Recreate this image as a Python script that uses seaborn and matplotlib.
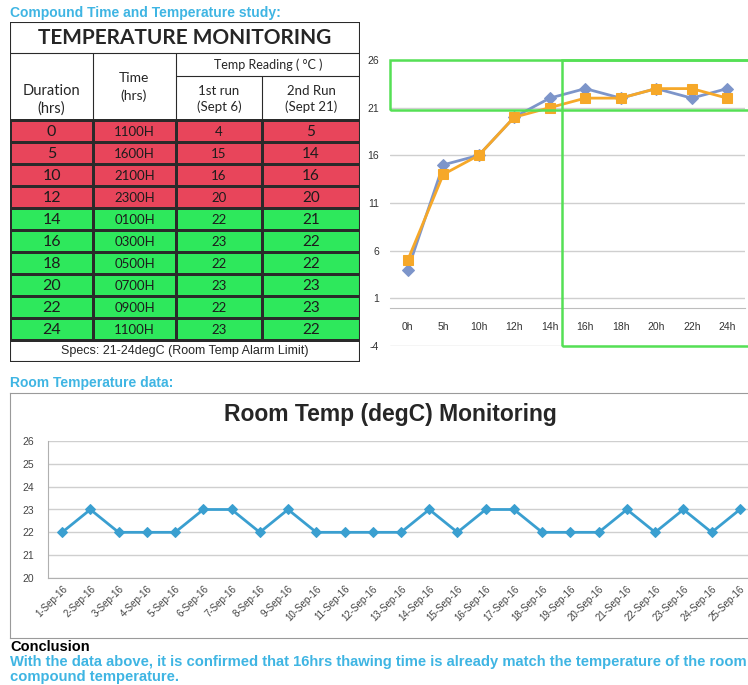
import numpy as np
import pandas as pd
import matplotlib
matplotlib.use("Agg")
import matplotlib.pyplot as plt
from matplotlib.colors import ListedColormap
from matplotlib.patches import Rectangle
import seaborn as sns

# ---- data ----
durations = [0, 5, 10, 12, 14, 16, 18, 20, 22, 24]
clock_times = ["1100H", "1600H", "2100H", "2300H", "0100H",
               "0300H", "0500H", "0700H", "0900H", "1100H"]
run1 = [4, 15, 16, 20, 22, 23, 22, 23, 22, 23]
run2 = [5, 14, 16, 20, 21, 22, 22, 23, 23, 22]
hour_labels = ["0h", "5h", "10h", "12h", "14h", "16h", "18h", "20h", "22h", "24h"]
alarm_low, alarm_high = 21, 24

room_dates = ["%d-Sep-16" % d for d in range(1, 26)]
room_temp = [22, 23, 22, 22, 22, 23, 23, 22, 23, 22, 22, 22, 22,
             23, 22, 23, 23, 22, 22, 22, 23, 22, 23, 22, 23]

CYAN = "#3fb5e3"
RED = "#e8455b"
GREEN = "#2ee85c"
BLUE_RUN = "#7d95ca"
ORANGE_RUN = "#f6a829"
LINE_BLUE = "#3a9fd0"
BOX_GREEN = "#55e055"
GRID = "#cfcfcf"

W, H = 748, 685
sns.set_style("white")
plt.rcParams["font.family"] = ["Liberation Sans", "DejaVu Sans"]
plt.rcParams["axes.unicode_minus"] = False
TABF = ["Lato", "DejaVu Sans"]


def rect(x0, y0, x1, y1):
    return [x0 / W, 1 - y1 / H, (x1 - x0) / W, (y1 - y0) / H]


fig = plt.figure(figsize=(W / 100, H / 100), dpi=100)

# ---- headings ----
fig.text(10 / W, 1 - 13 / H, "Compound Time and Temperature study:", color=CYAN,
         fontsize=10, fontweight="bold", va="center", ha="left")
fig.text(10 / W, 1 - 383 / H, "Room Temperature data:", color=CYAN,
         fontsize=10, fontweight="bold", va="center", ha="left")
fig.text(10 / W, 1 - 647 / H, "Conclusion", color="black",
         fontsize=10.5, fontweight="bold", va="center", ha="left")
fig.text(10 / W, 1 - 662 / H,
         "With the data above, it is confirmed that 16hrs thawing time is already "
         "match the temperature of the room", color=CYAN,
         fontsize=10.6, fontweight="bold", va="center", ha="left")
fig.text(10 / W, 1 - 677 / H, "compound temperature.", color=CYAN,
         fontsize=10.6, fontweight="bold", va="center", ha="left")

# ---- table ----
axt = fig.add_axes(rect(10, 22, 360, 362))
axt.set_xlim(10, 360)
axt.set_ylim(362, 22)
axt.axis("off")

col_edges = np.array([10, 93, 176, 262, 360])
row_edges = np.linspace(120, 340, len(durations) + 1)
ok = (np.minimum(run1, run2) >= alarm_low).astype(int)
status = np.repeat(ok[:, None], 4, axis=1)
axt.pcolormesh(col_edges, row_edges, status, cmap=ListedColormap([RED, GREEN]),
               vmin=0, vmax=1, edgecolors="#2a2a2a", linewidth=0.8)

cx = (col_edges[:-1] + col_edges[1:]) / 2
cy = (row_edges[:-1] + row_edges[1:]) / 2
columns = [[str(d) for d in durations], clock_times,
           [str(v) for v in run1], [str(v) for v in run2]]
sizes = [11.5, 9.5, 9.5, 11]
for j, col in enumerate(columns):
    for i, txt in enumerate(col):
        axt.text(cx[j], cy[i] + 1, txt, ha="center", va="center",
                 fontsize=sizes[j], color="#1c1c1c", family=TABF)

lk = dict(color="#2a2a2a", lw=0.8)
axt.plot([10, 360], [53, 53], **lk)
axt.plot([93, 93], [53, 120], **lk)
axt.plot([176, 176], [53, 120], **lk)
axt.plot([262, 262], [76, 120], **lk)
axt.plot([176, 360], [76, 76], **lk)
axt.add_patch(Rectangle((10, 22), 350, 340, fill=False, ec="#2a2a2a", lw=1.5))

axt.text(185, 38, "TEMPERATURE MONITORING", ha="center", va="center",
         fontsize=15, fontweight="bold", family=TABF)
axt.text(51, 100, "Duration\n(hrs)", ha="center", va="center", fontsize=10.5,
         family=TABF, linespacing=1.3)
axt.text(134, 87, "Time\n(hrs)", ha="center", va="center", fontsize=10,
         family=TABF, linespacing=1.45)
axt.text(268, 65, "Temp Reading ( °C )", ha="center", va="center", fontsize=9,
         family=TABF)
axt.text(219, 99, "1st run\n(Sept 6)", ha="center", va="center", fontsize=9.5,
         family=TABF, linespacing=1.4)
axt.text(311, 99, "2nd Run\n(Sept 21)", ha="center", va="center", fontsize=9.5,
         family=TABF, linespacing=1.4)
axt.text(185, 351, "Specs: %d-%ddegC (Room Temp Alarm Limit)" % (alarm_low, alarm_high),
         ha="center", va="center", fontsize=9)

# ---- top-right line chart ----
ax1 = fig.add_axes(rect(390, 60, 745, 346))
runs = pd.DataFrame({"hour": hour_labels, "run1": run1, "run2": run2})
sns.lineplot(data=runs, x="hour", y="run1", ax=ax1, sort=False, color=BLUE_RUN,
             marker="D", markersize=6, markeredgecolor=BLUE_RUN, lw=2)
sns.lineplot(data=runs, x="hour", y="run2", ax=ax1, sort=False, color=ORANGE_RUN,
             marker="s", markersize=7.5, markeredgecolor=ORANGE_RUN, lw=2)
ax1.set_xlim(-0.5, len(hour_labels) - 0.5)
ax1.set_ylim(-4, 26)
ax1.set_yticks(np.arange(-4, 27, 5))
ax1.yaxis.grid(True, color=GRID, lw=1)
ax1.set_axisbelow(True)
for s in ["left", "right", "top"]:
    ax1.spines[s].set_visible(False)
ax1.spines["bottom"].set_position(("data", 0))
ax1.spines["bottom"].set_color("#bdbdbd")
ax1.set_xticks(np.arange(-0.5, len(hour_labels), 1), minor=True)
ax1.tick_params(axis="x", which="major", length=0, pad=10, labelsize=7.5, labelcolor="#333333")
ax1.tick_params(axis="x", which="minor", length=3, color="#bdbdbd", direction="out")
ax1.tick_params(axis="y", length=0, labelsize=7.5, labelcolor="#333333", pad=8)
ax1.set_xlabel("")
ax1.set_ylabel("")
# alarm-limit highlight boxes
ax1.add_patch(Rectangle((-0.5, 20.8), 12, 5.2, fill=False, ec=BOX_GREEN, lw=1.8,
                        clip_on=False, zorder=5))
ax1.add_patch(Rectangle((4.35, -4), 8, 30, fill=False, ec=BOX_GREEN, lw=1.8,
                        clip_on=False, zorder=5))

# ---- bottom chart ----
axf = fig.add_axes(rect(10, 393, 760, 638))
axf.set_xticks([])
axf.set_yticks([])
for s in axf.spines.values():
    s.set_color("#9a9a9a")
axf.patch.set_alpha(0)
fig.text(390 / W, 1 - 414 / H, "Room Temp (degC) Monitoring", ha="center", va="center",
         fontsize=16.5, fontweight="bold")

ax2 = fig.add_axes(rect(48, 441, 754, 578))
room = pd.DataFrame({"date": room_dates, "temp": room_temp})
sns.lineplot(data=room, x="date", y="temp", ax=ax2, sort=False, color=LINE_BLUE,
             marker="D", markersize=5.5, markeredgecolor=LINE_BLUE, lw=2)
ax2.set_xlim(-0.5, len(room_dates) - 0.5)
ax2.set_ylim(20, 26)
ax2.set_yticks(range(20, 27))
ax2.yaxis.grid(True, color=GRID, lw=1)
ax2.set_axisbelow(True)
for s in ["right", "top"]:
    ax2.spines[s].set_visible(False)
for s in ["left", "bottom"]:
    ax2.spines[s].set_color("#b0b0b0")
ax2.set_xticks(np.arange(-0.5, len(room_dates), 1), minor=True)
ax2.tick_params(axis="x", which="major", length=0, pad=4, labelsize=7, labelcolor="#444444")
ax2.tick_params(axis="x", which="minor", length=4, color="#b0b0b0", direction="out")
ax2.tick_params(axis="y", length=4, color="#b0b0b0", labelsize=7.5, labelcolor="#444444", pad=6)
plt.setp(ax2.get_xticklabels(), rotation=45, ha="right", rotation_mode="anchor")
ax2.set_xlabel("")
ax2.set_ylabel("")

fig.savefig("out.png", dpi=100)
